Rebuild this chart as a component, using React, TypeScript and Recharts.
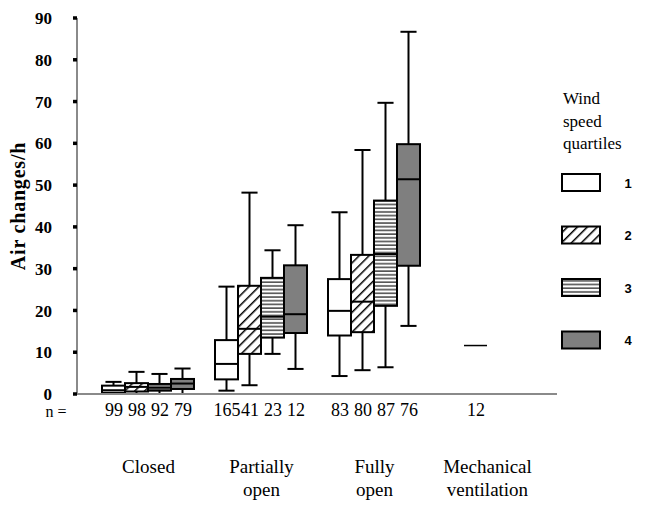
import React from 'react';
import { ComposedChart, Bar, XAxis, YAxis, Legend } from 'recharts';

// ---------- data ----------
const categories = ['Closed', 'Partially open', 'Fully open', 'Mechanical ventilation'];
const categoryLines = [['Closed'], ['Partially', 'open'], ['Fully', 'open'], ['Mechanical', 'ventilation']];

// each entry: [min, q1, median, q3, max] (air changes/h)
const quartile1 = [
  [0, 0.3, 0.9, 2.0, 2.9],
  [0.8, 3.5, 7.2, 12.9, 25.7],
  [4.3, 14.0, 19.9, 27.5, 43.5],
  null,
];
const quartile2 = [
  [0, 0.6, 1.7, 2.6, 5.3],
  [2.1, 9.6, 15.6, 25.9, 48.2],
  [5.7, 14.8, 22.1, 33.3, 58.4],
  [11.6, 11.6, 11.6, 11.6, 11.6],
];
const quartile3 = [
  [0, 0.8, 1.5, 2.4, 4.8],
  [9.6, 13.5, 18.5, 27.8, 34.4],
  [6.4, 21.1, 33.5, 46.3, 69.7],
  null,
];
const quartile4 = [
  [0, 1.2, 2.5, 3.6, 6.1],
  [6.0, 14.6, 19.1, 30.8, 40.4],
  [16.3, 30.7, 51.4, 59.8, 86.7],
  null,
];
const nCounts = [
  ['99', '98', '92', '79'],
  ['165', '41', '23', '12'],
  ['83', '80', '87', '76'],
  [null, '12', null, null],
];
const seriesNames = ['1', '2', '3', '4'];
const yTicks = [0, 10, 20, 30, 40, 50, 60, 70, 80, 90];
const legendTitle = ['Wind', 'speed', 'quartiles'];

const seriesKeys = ['s1', 's2', 's3', 's4'];
const fills = ['#ffffff', 'url(#hatchDiag)', 'url(#hatchHoriz)', '#7f7f7f'];

const tableData = categories.map((c, i) => ({
  category: c,
  s1: quartile1[i],
  s2: quartile2[i],
  s3: quartile3[i],
  s4: quartile4[i],
}));

const SERIF = '"Liberation Serif", "DejaVu Serif", serif';
const SANS = '"Liberation Sans", Arial, sans-serif';
const BAR_SIZE = 23;

const makeBoxShape = (key: string, fill: string) => (props: any) => {
  const { x, y, width, height, payload } = props;
  const s = payload ? payload[key] : null;
  if (!s || !isFinite(x) || !isFinite(y)) return null;
  const [mn, q1, md, q3, mx] = s;
  const span = mx - mn;
  const py = (v: number) => (span > 0 ? y + (height * (mx - v)) / span : y);
  const cx = x + width / 2;
  const cap = width * 0.35;
  if (span === 0) {
    return <line x1={x} x2={x + width} y1={py(md)} y2={py(md)} stroke="#000" strokeWidth={1.5} />;
  }
  return (
    <g>
      <line x1={cx} x2={cx} y1={py(mx)} y2={py(q3)} stroke="#000" strokeWidth={2} />
      <line x1={cx} x2={cx} y1={py(q1)} y2={py(mn)} stroke="#000" strokeWidth={2} />
      <line x1={cx - cap} x2={cx + cap} y1={py(mx)} y2={py(mx)} stroke="#000" strokeWidth={2} />
      <line x1={cx - cap} x2={cx + cap} y1={py(mn)} y2={py(mn)} stroke="#000" strokeWidth={2} />
      <rect x={x} y={py(q3)} width={width} height={py(q1) - py(q3)} fill={fill} stroke="#000" strokeWidth={2} />
      <line x1={x} x2={x + width} y1={py(md)} y2={py(md)} stroke="#000" strokeWidth={2} />
    </g>
  );
};

const XTick = (props: any) => {
  const { x, y, payload } = props;
  const i = categories.indexOf(payload.value);
  const counts = nCounts[i] || [];
  const lines = categoryLines[i] || [];
  return (
    <g>
      {i === 0 && (
        <text x={56} y={y + 23} textAnchor="middle" fontFamily={SERIF} fontSize={16} fill="#000">
          n =
        </text>
      )}
      {counts.map((n, k) =>
        n ? (
          <text key={k} x={x + (k - 1.5) * BAR_SIZE + 1} y={y + 22} textAnchor="middle" fontFamily={SERIF} fontSize={18} fill="#000">
            {n}
          </text>
        ) : null
      )}
      {lines.map((l, k) => (
        <text key={'l' + k} x={x + 1} y={y + 79 + k * 23} textAnchor="middle" fontFamily={SERIF} fontSize={19} fill="#000">
          {l}
        </text>
      ))}
    </g>
  );
};

const YTick = (props: any) => {
  const { y, payload } = props;
  return (
    <text x={52} y={y} dy="0.36em" textAnchor="end" fontFamily={SERIF} fontWeight="bold" fontSize={17} fill="#000">
      {payload.value}
    </text>
  );
};

const LegendContent = () => (
  <svg width={90} height={290} style={{ display: 'block' }}>
    {legendTitle.map((t, k) => (
      <text key={t} x={8} y={24 + k * 22.5} fontFamily={SERIF} fontSize={17} fill="#000">
        {t}
      </text>
    ))}
    {seriesNames.map((n, k) => (
      <g key={n}>
        <rect x={7} y={94 + k * 52.5} width={38} height={17} fill={fills[k]} stroke="#000" strokeWidth={2} />
        <text x={73} y={103 + k * 52.5} dominantBaseline="central" textAnchor="middle" fontFamily={SANS} fontWeight="bold" fontSize={13} fill="#000">
          {n}
        </text>
      </g>
    ))}
  </svg>
);

export default function App() {
  return (
    <div style={{ position: 'absolute', left: 0, top: 0, width: 645, height: 513, background: '#fff' }}>
      <svg width={0} height={0} style={{ position: 'absolute' }}>
        <defs>
          <pattern id="hatchDiag" patternUnits="userSpaceOnUse" width={7} height={7} patternTransform="rotate(45)">
            <rect width={7} height={7} fill="#fff" />
            <line x1={0} y1={0} x2={0} y2={7} stroke="#000" strokeWidth={3} />
          </pattern>
          <pattern id="hatchHoriz" patternUnits="userSpaceOnUse" width={4} height={3.7}>
            <rect width={4} height={3.7} fill="#fff" />
            <line x1={0} y1={1} x2={4} y2={1} stroke="#000" strokeWidth={1.1} />
          </pattern>
        </defs>
      </svg>
      <ComposedChart
        width={645}
        height={513}
        data={tableData}
        margin={{ top: 18, right: 88, bottom: 0, left: 0 }}
        barSize={BAR_SIZE}
        barGap={0}
        barCategoryGap={0}
      >
        <XAxis
          dataKey="category"
          type="category"
          height={119}
          padding={{ left: 14, right: 14 }}
          axisLine={{ stroke: '#8a8a8a', strokeWidth: 2 }}
          tickLine={false}
          tickSize={0}
          tickMargin={0}
          interval={0}
          tick={<XTick />}
        />
        <YAxis
          type="number"
          domain={[0, 90]}
          ticks={yTicks}
          width={77}
          interval={0}
          axisLine={{ stroke: '#8a8a8a', strokeWidth: 2 }}
          tickLine={{ stroke: '#000', strokeWidth: 3.5 }}
          tickSize={4}
          tick={<YTick />}
          label={{
            content: (p: any) => {
              const vb = p.viewBox || { y: 18, height: 376 };
              const cy = vb.y + vb.height / 2;
              return (
                <text
                  x={18}
                  y={cy}
                  transform={`rotate(-90, 18, ${cy})`}
                  textAnchor="middle"
                  dominantBaseline="central"
                  fontFamily={SERIF}
                  fontWeight="bold"
                  fontSize={20}
                  letterSpacing={0.8}
                  fill="#000"
                >
                  Air changes/h
                </text>
              );
            },
          }}
        />
        <Legend
          layout="horizontal"
          verticalAlign="middle"
          align="center"
          content={<LegendContent />}
          wrapperStyle={{ position: 'absolute', left: 555, top: 80, width: 90, height: 290 }}
        />
        {seriesKeys.map((key, k) => (
          <Bar
            key={key}
            name={seriesNames[k]}
            dataKey={(d: any) => (d[key] ? [d[key][0], d[key][4]] : null)}
            fill={fills[k]}
            isAnimationActive={false}
            shape={makeBoxShape(key, fills[k])}
          />
        ))}
      </ComposedChart>
    </div>
  );
}
